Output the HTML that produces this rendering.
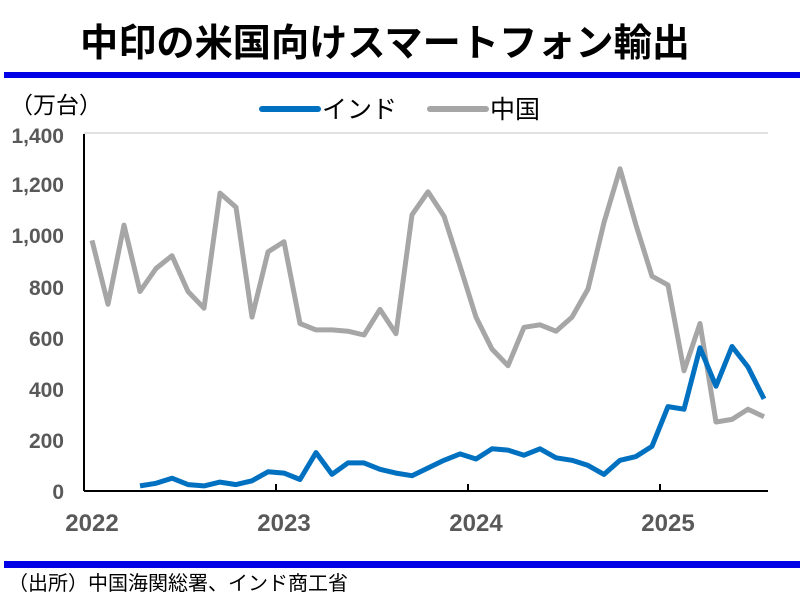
<!DOCTYPE html><html><head><meta charset="utf-8"><style>body{margin:0;background:#fff;width:800px;height:600px;overflow:hidden}</style></head><body>
<svg width="800" height="600" xmlns="http://www.w3.org/2000/svg" font-family="'Liberation Sans','Noto Sans CJK JP',sans-serif">
<text x="385" y="56" font-size="38" font-weight="bold" text-anchor="middle" fill="#000" textLength="610" lengthAdjust="spacingAndGlyphs">中印の米国向けスマートフォン輸出</text>
<rect x="4" y="72" width="796" height="6" fill="#0000e6"/>
<rect x="4" y="561" width="796" height="7" fill="#0000e6"/>
<text x="10" y="113" font-size="23" fill="#000">（万台）</text>
<line x1="262" y1="109" x2="318" y2="109" stroke="#0070c0" stroke-width="6" stroke-linecap="round"/>
<text x="322" y="118" font-size="25" fill="#000">インド</text>
<line x1="430" y1="109" x2="486" y2="109" stroke="#a6a6a6" stroke-width="6" stroke-linecap="round"/>
<text x="490" y="118" font-size="25" fill="#000">中国</text>
<line x1="84" y1="133" x2="768" y2="133" stroke="#d9d9d9" stroke-width="1.5"/>
<g fill="#595959" font-size="21" font-weight="bold" text-anchor="end">
<text x="64" y="143">1,400</text><text x="64" y="192">1,200</text><text x="64" y="243">1,000</text>
<text x="64" y="295">800</text><text x="64" y="346">600</text><text x="64" y="397">400</text>
<text x="64" y="448">200</text><text x="64" y="499">0</text></g>
<g fill="#595959" font-size="24" font-weight="bold" text-anchor="middle">
<text x="92" y="531">2022</text><text x="284" y="531">2023</text><text x="476" y="531">2024</text><text x="668" y="531">2025</text></g>
<g stroke="#000" stroke-width="2" fill="none">
<line x1="84" y1="134" x2="84" y2="491"/><line x1="84" y1="491" x2="768" y2="491"/>
<line x1="276" y1="491" x2="276" y2="484"/><line x1="468" y1="491" x2="468" y2="484"/><line x1="660" y1="491" x2="660" y2="484"/></g>
<polyline id="cn" fill="none" stroke="#a6a6a6" stroke-width="5" stroke-linejoin="round" points=""/>
<polyline id="in" fill="none" stroke="#0070c0" stroke-width="5" stroke-linejoin="round" points=""/>
<text x="8" y="590" font-size="20" fill="#000">（出所）中国海関総署、インド商工省</text>
</svg>
<script>
var cn=[980,730,1040,780,870,920,780,715,1165,1110,680,935,975,655,630,630,625,610,710,615,1080,1170,1075,880,680,555,490,640,650,625,680,790,1050,1260,1040,840,805,470,655,270,280,320,290];
var ind=[20,30,50,25,20,35,25,40,75,70,45,150,65,110,110,85,70,60,90,120,145,125,165,160,140,165,130,120,100,65,120,135,175,330,320,560,410,565,485,360];
function p(a,s){return a.map(function(v,i){return (92+(i+s)*16)+","+(491-v*358/1400).toFixed(1)}).join(" ")}
document.getElementById("cn").setAttribute("points",p(cn,0));
document.getElementById("in").setAttribute("points",p(ind,3));
</script>
</body></html>
